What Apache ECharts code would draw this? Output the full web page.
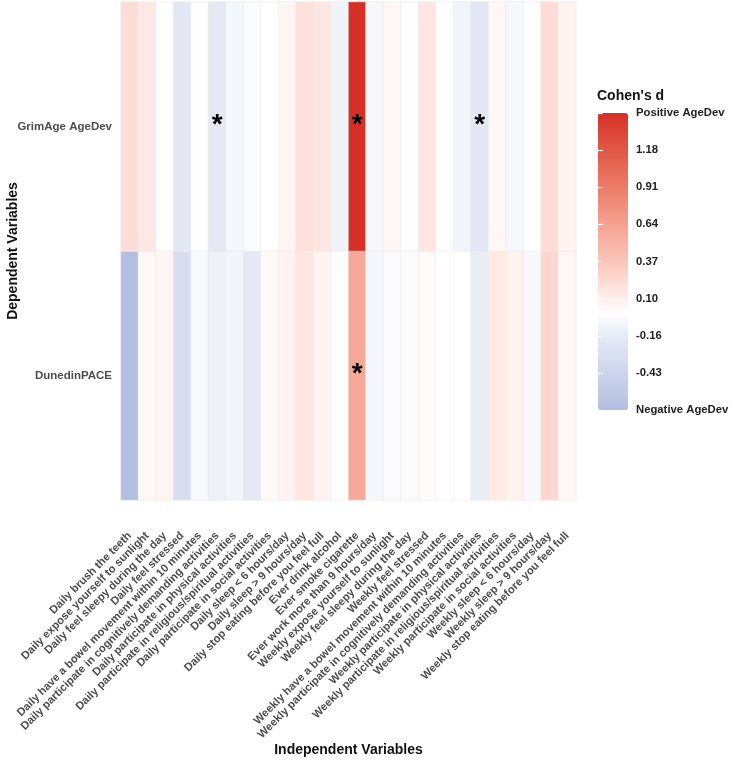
<!DOCTYPE html>
<html>
<head>
<meta charset="utf-8">
<script src="https://cdn.jsdelivr.net/npm/echarts@6/dist/echarts.min.js"></script>
<style>
  html, body { margin: 0; padding: 0; background: #fff; }
  #chart { width: 731px; height: 761px; }
</style>
</head>
<body>
<div id="chart"></div>
<script>
const xCats = [
  'Daily brush the teeth',
  'Daily expose yourself to sunlight',
  'Daily feel sleepy during the day',
  'Daily feel stressed',
  'Daily have a bowel movement within 10 minutes',
  'Daily participate in cognitively demanding activities',
  'Daily participate in physical activities',
  'Daily participate in religious/spiritual activities',
  'Daily participate in social activities',
  'Daily sleep < 6 hours/day',
  'Daily sleep > 9 hours/day',
  'Daily stop eating before you feel full',
  'Ever drink alcohol',
  'Ever smoke cigarette',
  'Ever work more than 9 hours/day',
  'Weekly expose yourself to sunlight',
  'Weekly feel sleepy during the day',
  'Weekly feel stressed',
  'Weekly have a bowel movement within 10 minutes',
  'Weekly participate in cognitively demanding activities',
  'Weekly participate in physical activities',
  'Weekly participate in religious/spiritual activities',
  'Weekly participate in social activities',
  'Weekly sleep < 6 hours/day',
  'Weekly sleep > 9 hours/day',
  'Weekly stop eating before you feel full'
];
// bottom row first (category y axis starts at the bottom)
const yCats = ['DunedinPACE', 'GrimAge AgeDev'];

// Cohen's d, one value per independent variable
const grimAgeD = [0.22, 0.15, 0.00, -0.21, 0.01, -0.18, -0.07, -0.03, 0.00, 0.06, 0.20, 0.16, -0.10,
                  1.444, -0.06, 0.05, 0.01, 0.16, 0.00, -0.09, -0.19, 0.05, -0.06, 0.00, 0.22, 0.08];
const dunedinD = [-0.70, 0.05, 0.06, -0.32, -0.05, -0.11, -0.08, -0.18, 0.04, 0.07, 0.17, 0.07, -0.01,
                  0.59, -0.07, -0.03, -0.03, 0.03, 0.00, 0.00, -0.15, 0.14, 0.08, -0.05, 0.26, 0.05];
// column indexes marked with *
const grimAgeSig = [5, 13, 20];
const dunedinSig = [13];

// colour bar breaks and their labels
const legendLabels = ['Negative AgeDev', '-0.43', '-0.16', '0.10', '0.37', '0.64', '0.91', '1.18', 'Positive AgeDev'];
const dMin = -0.70, dMax = 1.444;

// colours
const colorAnchors = [
  [-0.70, '#b3bfe0'], [-0.43, '#cdd5eb'], [-0.16, '#e7ebf5'], [0, '#ffffff'],
  [0.10, '#fff0ec'], [0.37, '#fbc6bb'], [0.64, '#f5a292'], [0.91, '#eb7c68'],
  [1.18, '#e15744'], [1.444, '#d73027']
];

function hexToRgb(h) {
  return [1, 3, 5].map(i => parseInt(h.slice(i, i + 2), 16));
}
function colorAt(v) {
  for (let i = 0; i < colorAnchors.length - 1; i++) {
    const [v0, c0] = colorAnchors[i], [v1, c1] = colorAnchors[i + 1];
    if (v <= v1 || i === colorAnchors.length - 2) {
      const t = Math.max(0, Math.min(1, (v - v0) / (v1 - v0)));
      const a = hexToRgb(c0), b = hexToRgb(c1);
      return 'rgb(' + a.map((x, k) => Math.round(x + (b[k] - x) * t)).join(',') + ')';
    }
  }
}
const rampColors = [];
for (let i = 0; i <= 80; i++) rampColors.push(colorAt(dMin + (dMax - dMin) * i / 80));

const heatData = [];
[dunedinD, grimAgeD].forEach((row, y) => {
  const sig = y === 0 ? dunedinSig : grimAgeSig;
  row.forEach((v, x) => {
    heatData.push({ value: [x, y, v], label: { show: sig.includes(x) } });
  });
});

const font = "'Liberation Sans', Arial, sans-serif";
const chart = echarts.init(document.getElementById('chart'), null, { renderer: 'canvas' });

chart.setOption({
  backgroundColor: '#fff',
  animation: false,
  textStyle: { fontFamily: font },
  title: {
    text: "Cohen's d", left: 597, top: 89, padding: 0,
    textStyle: { fontFamily: font, fontSize: 14, fontWeight: 'bold', color: '#111' }
  },
  grid: [
    { left: 121, top: 2, width: 455, height: 498, outerBoundsMode: 'none' },
    { left: 598, top: 113, width: 30, height: 297, outerBoundsMode: 'none' }
  ],
  xAxis: [
    {
      type: 'category', data: xCats, gridIndex: 0,
      axisLine: { show: false }, axisTick: { show: false }, splitLine: { show: false },
      axisLabel: {
        rotate: 45, interval: 0, margin: 34, fontSize: 11.2, fontWeight: 'bold',
        color: '#4d4d4d', fontFamily: font
      },
      name: 'Independent Variables', nameLocation: 'middle', nameGap: 243, nameMoveOverlap: false,
      nameTextStyle: { fontSize: 14, fontWeight: 'bold', color: '#111', fontFamily: font }
    },
    { type: 'value', gridIndex: 1, show: false, min: 0, max: 1 }
  ],
  yAxis: [
    {
      type: 'category', data: yCats, gridIndex: 0,
      axisLine: { show: false }, axisTick: { show: false }, splitLine: { show: false },
      axisLabel: { margin: 9, fontSize: 11.5, fontWeight: 'bold', color: '#4d4d4d', fontFamily: font },
      name: 'Dependent Variables', nameLocation: 'middle', nameGap: 101, nameRotate: 90,
      nameMoveOverlap: false,
      nameTextStyle: { fontSize: 14, fontWeight: 'bold', color: '#111', fontFamily: font }
    },
    {
      type: 'value', gridIndex: 1, position: 'right', min: 0, max: 8, interval: 1, z: 10,
      axisLine: { show: false }, splitLine: { show: false },
      axisTick: { show: true, inside: true, length: 5, lineStyle: { color: '#fff', width: 1.2 } },
      axisLabel: {
        margin: 8, fontSize: 11.3, fontWeight: 'bold', color: '#222', fontFamily: font,
        formatter: v => legendLabels[v]
      }
    },
    {
      type: 'value', gridIndex: 1, position: 'left', min: 0, max: 8, interval: 1, z: 10,
      axisLine: { show: false }, splitLine: { show: false },
      axisTick: { show: true, inside: true, length: 5, lineStyle: { color: '#fff', width: 1.2 } },
      axisLabel: { show: false }
    }
  ],
  visualMap: {
    type: 'continuous', min: dMin, max: dMax, seriesIndex: 0,
    calculable: false, hoverLink: false, realtime: false,
    left: 598, top: 113, padding: 0, itemWidth: 30, itemHeight: 297,
    inRange: { color: rampColors },
    textStyle: { color: 'transparent' }
  },
  series: [{
    type: 'heatmap',
    xAxisIndex: 0, yAxisIndex: 0,
    data: heatData,
    itemStyle: { borderColor: '#ebebeb', borderWidth: 0.6 },
    label: {
      show: false, formatter: '*', fontSize: 28, fontWeight: 'bold', color: '#000', fontFamily: font,
      offset: [0, -1]
    },
    emphasis: { disabled: true }
  }]
});
</script>
</body>
</html>
